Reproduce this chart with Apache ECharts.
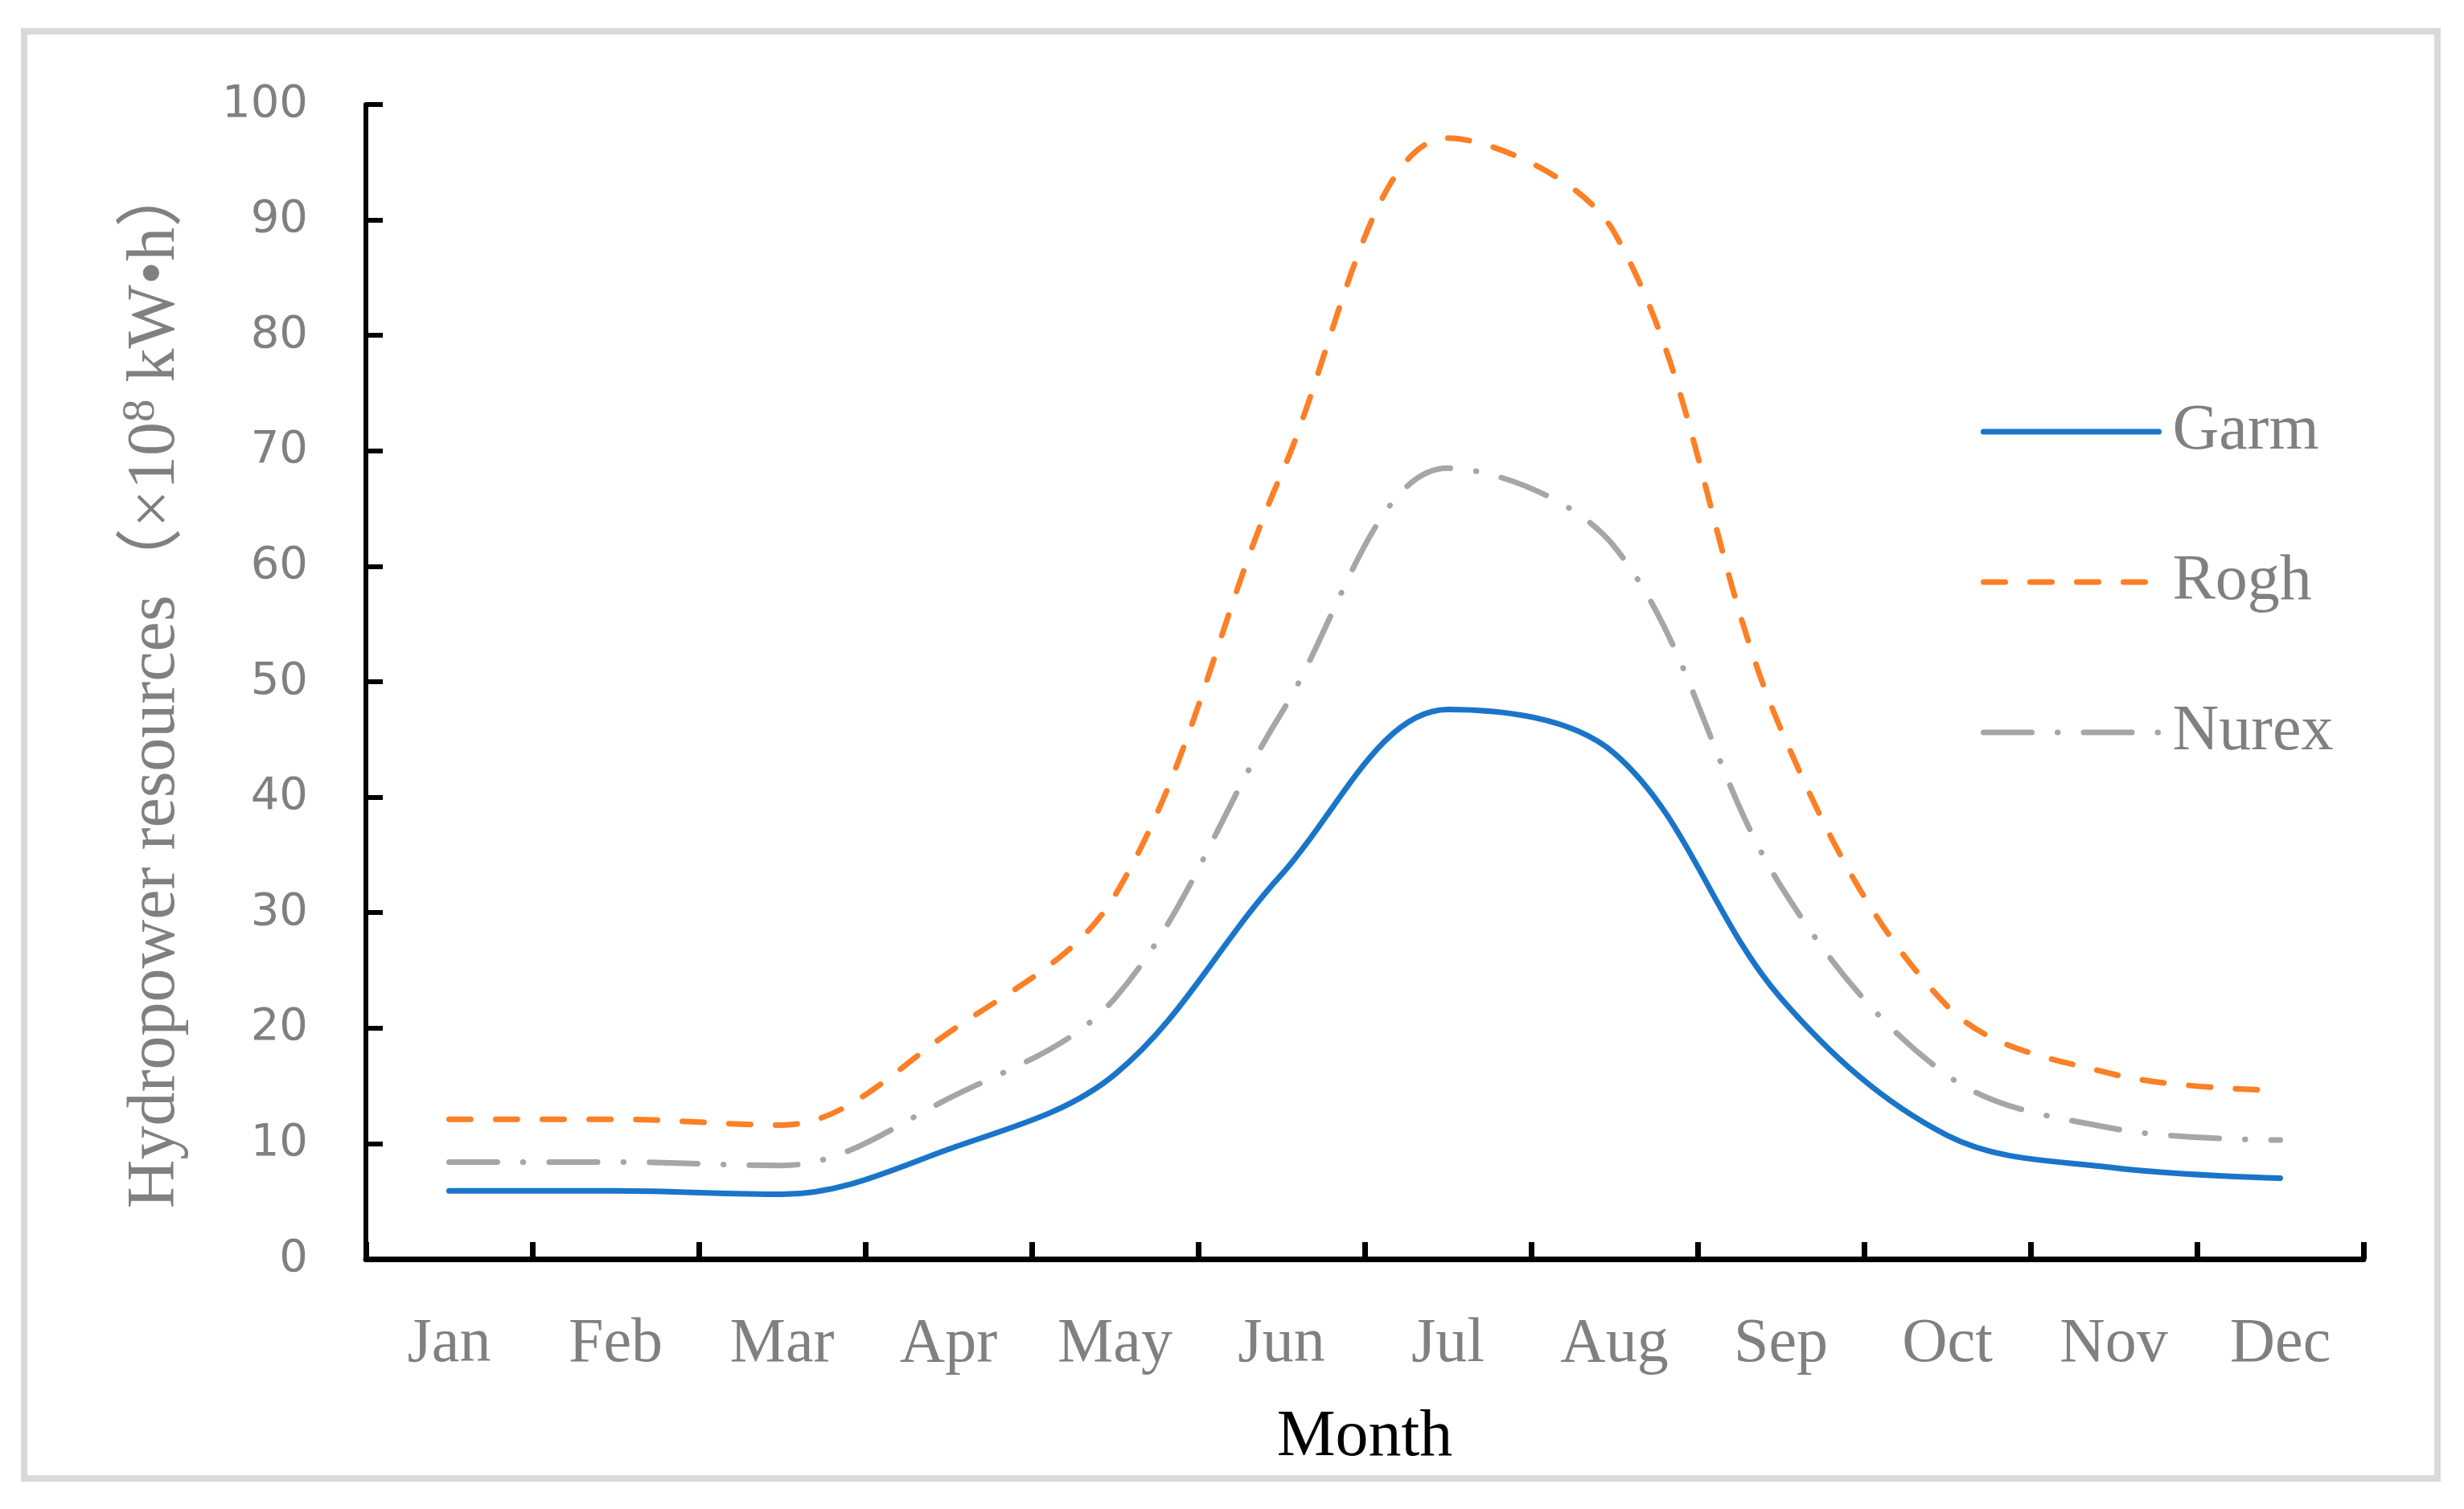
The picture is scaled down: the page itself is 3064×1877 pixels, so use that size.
<!DOCTYPE html>
<html>
<head>
<meta charset="utf-8">
<script src="https://cdn.jsdelivr.net/npm/echarts@6/dist/echarts.min.js"></script>
<style>
  html, body { margin: 0; padding: 0; background: #fff; }
  #chart { width: 3064px; height: 1877px; }
</style>
</head>
<body>
<div id="chart"></div>
<script>
// months on the x axis
const months = ['Jan', 'Feb', 'Mar', 'Apr', 'May', 'Jun', 'Jul', 'Aug', 'Sep', 'Oct', 'Nov', 'Dec'];
// monthly hydropower resources (x10^8 kW·h)
const garm  = [5.9, 5.9, 5.6, 9.5, 16.0, 33.3, 47.6, 43.8, 22.6, 10.7, 7.9, 7.0];
const rogh  = [12.1, 12.1, 11.6, 19.6, 31.5, 68.0, 97.1, 88.9, 45.9, 21.9, 16.0, 14.6];
const nurex = [8.4, 8.4, 8.1, 13.9, 22.6, 47.3, 68.5, 61.7, 32.3, 15.9, 11.3, 10.3];
const yTicks = { min: 0, max: 100, step: 10 };

const serif = '"Liberation Serif", "Times New Roman", "Noto Sans CJK SC", serif';
const gray = '#808080';

const chart = echarts.init(document.getElementById('chart'));

function lineSeries(name, data, color, dash) {
  return {
    name: name,
    type: 'line',
    data: data,
    smooth: 0.35,
    symbol: 'none',
    lineStyle: { color: color, width: 7, type: dash, cap: 'round' },
    itemStyle: { color: color }
  };
}

const option = {
  animation: false,
  backgroundColor: '#fff',
  graphic: [{
    type: 'rect',
    z: -10,
    shape: { x: 30, y: 39, width: 3001, height: 1800 },
    style: { fill: 'none', stroke: '#d9d9d9', lineWidth: 8 }
  }],
  grid: { left: 455, right: 125, top: 130, bottom: 311, outerBoundsMode: 'none' },
  legend: {
    orient: 'vertical',
    left: 2458,
    top: 492,
    itemWidth: 218,
    itemHeight: 20,
    itemGap: 107,
    data: ['Garm', 'Rogh', 'Nurex'],
    lineStyle: { width: 7 },
    itemStyle: { opacity: 0 },
    textStyle: { fontFamily: serif, fontSize: 80, color: gray, lineHeight: 80, padding: [0, 0, 0, 12] }
  },
  xAxis: {
    type: 'category',
    data: months,
    boundaryGap: true,
    name: 'Month',
    nameLocation: 'middle',
    nameGap: 181,
    nameMoveOverlap: false,
    nameTextStyle: { fontFamily: serif, fontSize: 82, color: '#000' },
    axisLine: { show: true, lineStyle: { color: '#000', width: 7 } },
    axisTick: { show: true, inside: true, length: 21, interval: 0, lineStyle: { color: '#000', width: 7 } },
    axisLabel: { interval: 0, margin: 68, fontFamily: serif, fontSize: 78, color: gray },
    splitLine: { show: false }
  },
  yAxis: {
    type: 'value',
    min: yTicks.min,
    max: yTicks.max,
    interval: yTicks.step,
    name: '{a|Hydropower resources（×10}{s|8}{a| kW•h）}',
    nameLocation: 'middle',
    nameRotate: 90,
    nameGap: 215,
    nameMoveOverlap: false,
    nameTextStyle: {
      color: gray,
      padding: [0, 6, 0, 0],
      rich: {
        a: { fontFamily: serif, fontSize: 84, color: gray, lineHeight: 92 },
        s: { fontFamily: serif, fontSize: 57, color: gray, lineHeight: 57, verticalAlign: 'top' }
      }
    },
    axisLine: { show: true, lineStyle: { color: '#000', width: 6 } },
    axisTick: { show: true, inside: true, length: 21, lineStyle: { color: '#000', width: 6 } },
    axisLabel: { margin: 72, fontFamily: '"DejaVu Sans", sans-serif', fontSize: 56, color: gray },
    splitLine: { show: false }
  },
  series: [
    lineSeries('Garm', garm, '#1a75c9', 'solid'),
    lineSeries('Rogh', rogh, '#fd7f26', [27, 31]),
    lineSeries('Nurex', nurex, '#a6a6a6', [60, 32, 0.5, 32])
  ]
};

chart.setOption(option);
</script>
</body>
</html>
